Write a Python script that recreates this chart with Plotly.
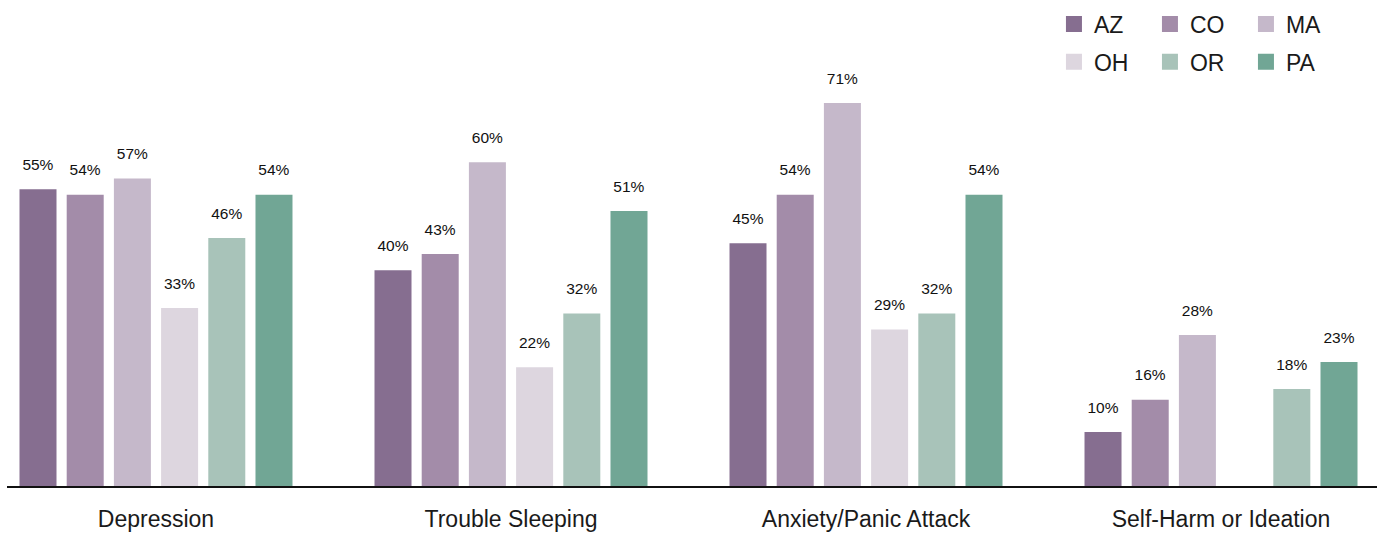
import plotly.graph_objects as go

categories = ["Depression", "Trouble Sleeping", "Anxiety/Panic Attack", "Self-Harm or Ideation"]
states = ["AZ", "CO", "MA", "OH", "OR", "PA"]
values = {
    "AZ": [55, 40, 45, 10],
    "CO": [54, 43, 54, 16],
    "MA": [57, 60, 71, 28],
    "OH": [33, 22, 29, None],
    "OR": [46, 32, 32, 18],
    "PA": [54, 51, 54, 23],
}
colors = {
    "AZ": "#866e90",
    "CO": "#a38ca9",
    "MA": "#c5b8ca",
    "OH": "#ddd6df",
    "OR": "#a8c3b9",
    "PA": "#71a695",
}

fig = go.Figure()
for i, s in enumerate(states):
    fig.add_trace(go.Bar(
        name=s,
        x=categories,
        y=values[s],
        marker=dict(color=colors[s], line=dict(width=0)),
        texttemplate="<span style='font-size:15.5px'>%{y}%</span><br> ",
        textposition="outside",
        textfont=dict(size=11, color="#111111", family="Liberation Sans, Arial, sans-serif"),
        cliponaxis=False,
        showlegend=False,
        hoverinfo="skip",
    ))

# legend-only entries with larger square swatches
for i, s in enumerate(states):
    fig.add_trace(go.Scatter(
        name=s,
        x=[None], y=[None],
        mode="markers",
        marker=dict(symbol="square", size=16, color=colors[s]),
        legend="legend" if i < 3 else "legend2",
        hoverinfo="skip",
    ))

legend_common = dict(
    orientation="h", xanchor="left", yanchor="top",
    entrywidth=51, entrywidthmode="pixels",
    font=dict(size=23, color="#1a1a1a"), bgcolor="rgba(0,0,0,0)",
    itemclick=False, itemdoubleclick=False,
)

fig.update_layout(
    width=1377, height=534,
    margin=dict(l=7, r=0, t=0, b=48, autoexpand=False),
    paper_bgcolor="white", plot_bgcolor="white",
    barmode="group",
    bargap=0.2023,
    bargroupgap=0.216,
    font=dict(family="Liberation Sans, Arial, sans-serif", color="#1a1a1a"),
    xaxis=dict(
        range=[-0.4197, 3.4394],
        showline=True, linecolor="#111", linewidth=1.5,
        ticks="outside", ticklen=12, tickcolor="rgba(0,0,0,0)",
        tickfont=dict(size=23, color="#1a1a1a"),
        showgrid=False, zeroline=False,
    ),
    yaxis=dict(range=[0, 90.1], visible=False, showgrid=False, zeroline=False),
    legend=dict(x=0.7642, y=0.995, **legend_common),
    legend2=dict(x=0.7642, y=0.917, **legend_common),
    showlegend=True,
)

fig.write_html("out.html")
